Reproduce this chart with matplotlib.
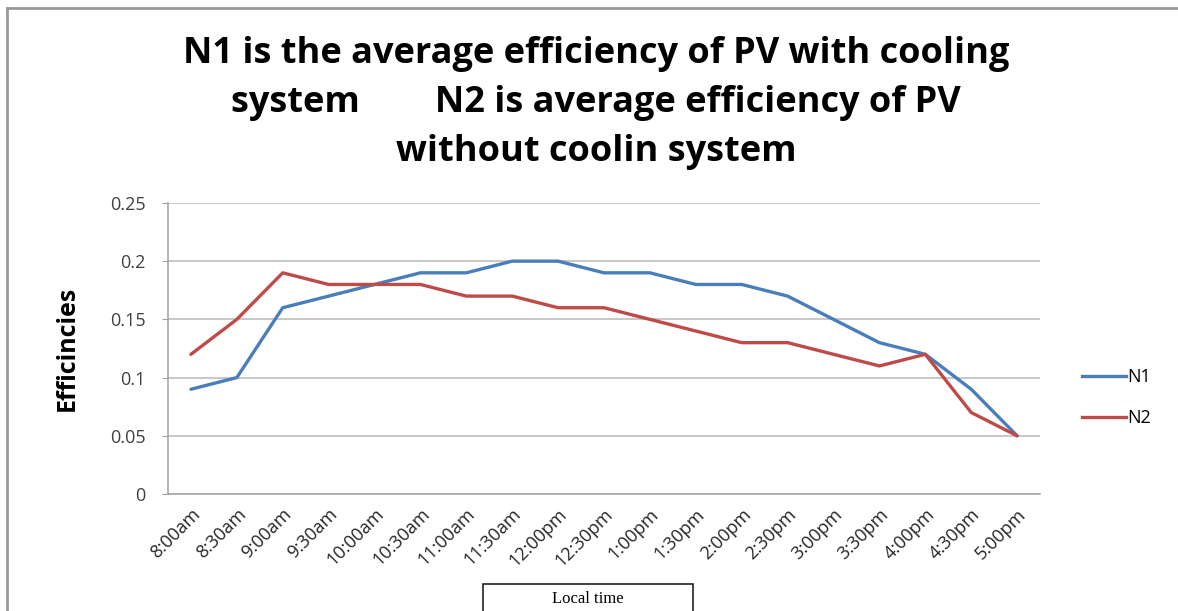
import matplotlib
matplotlib.use('Agg')
import matplotlib.pyplot as plt
from matplotlib.patches import Rectangle
from matplotlib.lines import Line2D

times = ['8:00am', '8:30am', '9:00am', '9:30am', '10:00am', '10:30am', '11:00am',
         '11:30am', '12:00pm', '12:30pm', '1:00pm', '1:30pm', '2:00pm', '2:30pm',
         '3:00pm', '3:30pm', '4:00pm', '4:30pm', '5:00pm']
n1 = [0.09, 0.10, 0.16, 0.17, 0.18, 0.19, 0.19, 0.20, 0.20, 0.19, 0.19, 0.18,
      0.18, 0.17, 0.15, 0.13, 0.12, 0.09, 0.05]
n2 = [0.12, 0.15, 0.19, 0.18, 0.18, 0.18, 0.17, 0.17, 0.16, 0.16, 0.15, 0.14,
      0.13, 0.13, 0.12, 0.11, 0.12, 0.07, 0.05]
yticks = [0, 0.05, 0.1, 0.15, 0.2, 0.25]
ytick_labels = ['0', '0.05', '0.1', '0.15', '0.2', '0.25']

plt.rcParams['font.family'] = ['Open Sans', 'DejaVu Sans']

fig = plt.figure(figsize=(11.78, 6.11), dpi=100)
ax = fig.add_axes([0.1426, 0.1915, 0.7403, 0.4763])

x = list(range(len(times)))
ax.plot(x, n1, color='#4a7ebb', lw=2.4, label='N1', solid_capstyle='round')
ax.plot(x, n2, color='#be4b48', lw=2.4, label='N2', solid_capstyle='round')

ax.set_xlim(-0.5, len(times) - 0.5)
ax.set_ylim(0, 0.25)
ax.set_yticks(yticks)
ax.set_yticklabels(ytick_labels)
ax.set_xticks(x)
ax.set_xticklabels(times, rotation=45, ha='right', rotation_mode='anchor')
ax.tick_params(axis='x', length=0, pad=8, labelsize=13, labelcolor='#262626')
ax.tick_params(axis='y', length=4, color='#a0a0a0', pad=12, labelsize=13,
               labelcolor='#404040')
ax.yaxis.grid(True, color='#b8b8b8', lw=1.1)
ax.set_axisbelow(True)
for s in ['top', 'right']:
    ax.spines[s].set_visible(False)
for s in ['left', 'bottom']:
    ax.spines[s].set_color('#a0a0a0')
    ax.spines[s].set_linewidth(1.1)

ax.set_ylabel('Efficincies', fontsize=18, fontweight='bold', labelpad=22)

handles = [Line2D([], [], color='#4a7ebb', lw=2.4),
           Line2D([], [], color='#be4b48', lw=2.4)]
fig.legend(handles, ['N1', 'N2'], loc='center left', bbox_to_anchor=(0.905, 0.349),
           frameon=False, fontsize=13, handlelength=2.4, handletextpad=0.1,
           labelspacing=1.3)

# title
title_lines = ['N1 is the average efficiency of PV with cooling',
               'system        N2 is average efficiency of PV',
               'without coolin system']
for i, t in enumerate(title_lines):
    fig.text(0.506, 0.912 - i * 0.08, t, ha='center', va='center',
             fontsize=26, fontweight='bold')

# outer border
fig.add_artist(Line2D([0.006, 1.0], [0.987, 0.987], color='#9a9a9a', lw=2,
                      transform=fig.transFigure))
fig.add_artist(Line2D([0.006, 0.006], [0.0, 0.987], color='#9a9a9a', lw=2,
                      transform=fig.transFigure))

# "Local time" box
fig.add_artist(Rectangle((0.41, -0.01), 0.178, 0.054, transform=fig.transFigure,
                         fill=False, ec='#222222', lw=1.2))
fig.text(0.499, 0.019, 'Local time', ha='center', va='center', fontsize=12,
         family='Liberation Serif')

fig.savefig('out.png', dpi=100)
